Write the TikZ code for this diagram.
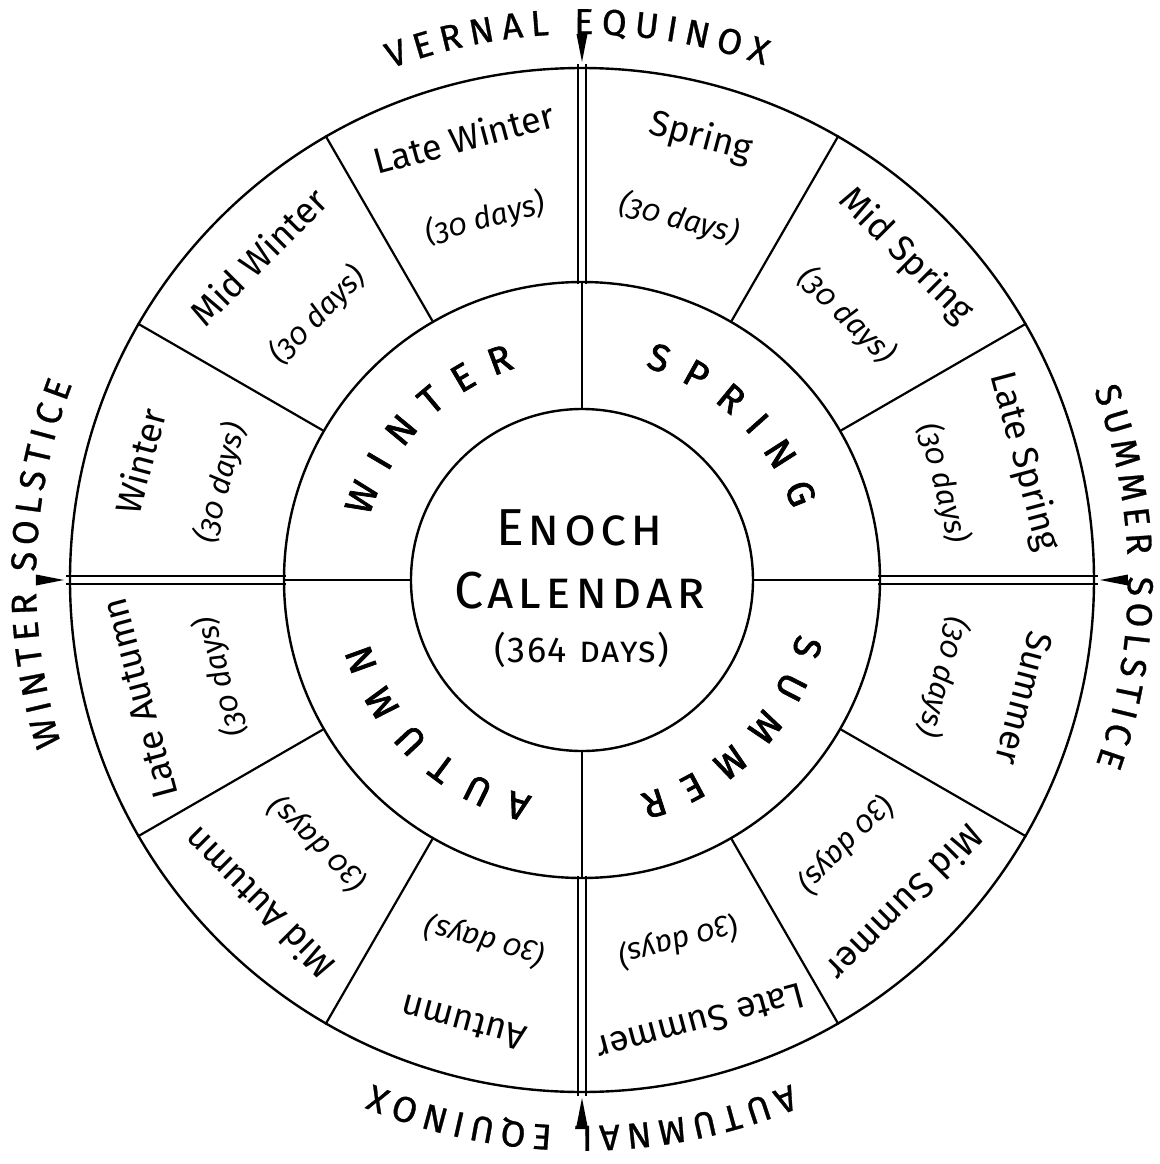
\documentclass[tikz,border=0pt]{standalone}
\usepackage{fontspec}
\setmainfont{Fira Sans}
\newfontfamily\fuenteDias{Fira Sans}[Numbers=OldStyle]
\newfontfamily\familiaRotulo{Fira Sans}[FakeBold=0.8]
\newfontfamily\familiaEstacion{Fira Sans}[FakeBold=1.8]
\usetikzlibrary{decorations.text, backgrounds}
\colorlet{colTinta}{black}
\newcommand\fuenteRotulo{\familiaRotulo\fontsize{18}{21}\selectfont}
\newcommand\fuenteEstacion{\familiaEstacion\fontsize{19}{22}\selectfont}
\tikzset{
  anillo/.style={circle, draw=colTinta, line width=1.2pt, inner sep=0pt},
  divisoria/.style={draw=colTinta, line width=1.1pt},
  divisoriaDoble/.style={draw=colTinta, line width=1pt, double=white,
    double distance=2.6pt, shorten <=-1.5pt, shorten >=-1.5pt},
  textoMes/.style={font=\fontsize{18}{21}\selectfont, text=colTinta, inner sep=0pt},
  textoDias/.style={font=\fuenteDias\itshape\fontsize{15}{18}\selectfont,
    text=colTinta, inner sep=0pt},
  textoTitulo/.style={font=\fontsize{26}{30}\selectfont\addfontfeature{LetterSpace=8},
    text=colTinta, inner sep=0pt, anchor=base},
  textoTotal/.style={font=\fontsize{18}{21}\selectfont\addfontfeature{LetterSpace=4},
    text=colTinta, inner sep=0pt, anchor=base},
  rotuloCurvo/.style={decorate, decoration={text along path, text align={fit to path}}},
  marcaPunto/.style={fill=colTinta},
}

\begin{document}
\begin{tikzpicture}[x=0.5pt, y=0.5pt]
  \useasboundingbox (-582,-584) rectangle (578,580);
  \node[anillo, minimum size=171pt] (circInterior) at (0,0) {};
  \node[anillo, minimum size=298pt] (circMedio) at (0,0) {};
  \node[anillo, minimum size=512pt] (circExterior) at (0,0) {};
  % divisorias
  \begin{scope}[on background layer]
    \foreach \a in {0,90,180,270}
      \draw[divisoriaDoble] (circMedio.\a) -- (circExterior.\a);
  \end{scope}
  \foreach \a in {30,60,120,150,210,240,300,330}
    \draw[divisoria] (circMedio.\a) -- (circExterior.\a);
  \foreach \a in {0,90,180,270}
    \draw[divisoria] (circInterior.\a) -- (circMedio.\a);
  % meses
  \foreach \nombre [count=\i] in {Late Spring,Mid Spring,Spring,Late Winter,Mid Winter,Winter,
      Late Autumn,Mid Autumn,Autumn,Late Summer,Mid Summer,Summer}{
    \pgfmathsetmacro\ang{30*\i-15}
    \node[textoMes, rotate=\ang-90] (mes\i) at (\ang:458) {\nombre};
    \node[textoDias, rotate=\ang-90] (dias\i) at (\ang:374) {(30 days)};
  }
  % estaciones
  \foreach \texto/\ini/\fin in {WINTER/163.5/107.5,SPRING/73.5/18.5,
      SUMMER/-14/-75,AUTUMN/-103/-163.5}{
    \fuenteEstacion
    \path[rotuloCurvo, decoration={text/.expanded=\texto}]
      (\ini:222) arc[start angle=\ini, end angle=\fin, radius=222];
  }
  % equinoccios y solsticios
  \foreach \texto/\ini/\fin in {VERNAL EQUINOX/110.5/70.5,SUMMER SOLSTICE/20.4/-19.7,
      AUTUMNAL EQUINOX/-67.5/-112.5,WINTER SOLSTICE/197.5/159}{
    \fuenteRotulo
    \path[rotuloCurvo, decoration={text/.expanded=\texto}]
      (\ini:546) arc[start angle=\ini, end angle=\fin, radius=546];
  }
  \foreach \a in {0,90,180,270}
    \fill[marcaPunto, rotate=\a] (546,5.5) -- (518,0) -- (546,-5.5) -- cycle;
  % centro
  \node[textoTitulo] (titulo1) at (0,35) {\textsc{Enoch}};
  \node[textoTitulo] (titulo2) at (0,-28) {\textsc{Calendar}};
  \node[textoTotal] (titulo3) at (0,-82) {(364 \textsc{days})};
\end{tikzpicture}
\end{document}
